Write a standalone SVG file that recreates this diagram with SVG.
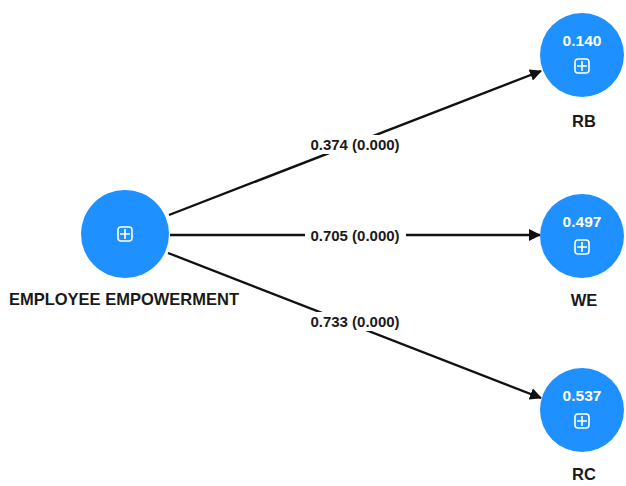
<svg xmlns="http://www.w3.org/2000/svg" width="626" height="486" viewBox="0 0 626 486">
<style>
.node{fill:#1E90FF}
.lbl{font-family:"Liberation Sans",Arial,sans-serif;font-weight:bold;font-size:16.5px;fill:#1a1a1a;text-anchor:middle}
.val{font-family:"Liberation Sans",Arial,sans-serif;font-weight:bold;font-size:15.5px;fill:#ffffff;text-anchor:middle}
.edge{stroke:#111;stroke-width:2.4;fill:none;marker-end:url(#arr)}
.elbl{font-family:"Liberation Sans",Arial,sans-serif;font-weight:bold;font-size:15px;fill:#1a1a1a;text-anchor:middle}
.icon{fill:none;stroke:#ffffff;stroke-width:1.6}
</style>
<defs>
<marker id="arr" markerWidth="12" markerHeight="12" refX="11" refY="6" orient="auto" markerUnits="userSpaceOnUse" viewBox="0 0 12 12">
<path d="M0,0 L12,6 L0,12 z" fill="#111"/>
</marker>
<g id="plus">
<rect x="-7" y="-7" width="14" height="14" rx="3" class="icon"/>
<path d="M0,-5 V5 M-5,0 H5" class="icon"/>
</g>
</defs>
<rect width="626" height="486" fill="#ffffff"/>
<g id="connectors">
<line class="edge" x1="169" y1="215" x2="541" y2="71"/>
<line class="edge" x1="170" y1="235" x2="540" y2="235"/>
<line class="edge" x1="168" y1="253" x2="541" y2="398"/>
<rect x="305" y="135" width="101" height="19" fill="#ffffff"/>
<rect x="305" y="226" width="101" height="19" fill="#ffffff"/>
<rect x="305" y="312" width="101" height="19" fill="#ffffff"/>
<text class="elbl" x="355" y="150">0.374 (0.000)</text>
<text class="elbl" x="355" y="241">0.705 (0.000)</text>
<text class="elbl" x="355" y="327">0.733 (0.000)</text>
</g>
<g id="employee-empowerment">
<circle class="node" cx="125" cy="234" r="44"/>
<use href="#plus" x="125" y="234"/>
<text class="lbl" x="124" y="305">EMPLOYEE EMPOWERMENT</text>
</g>
<g id="rb">
<circle class="node" cx="582" cy="55" r="42"/>
<text class="val" x="582" y="46">0.140</text>
<use href="#plus" x="582" y="66"/>
<text class="lbl" x="584" y="127">RB</text>
</g>
<g id="we">
<circle class="node" cx="582" cy="236" r="42"/>
<text class="val" x="582" y="227">0.497</text>
<use href="#plus" x="582" y="247"/>
<text class="lbl" x="584" y="306">WE</text>
</g>
<g id="rc">
<circle class="node" cx="582" cy="410" r="42"/>
<text class="val" x="582" y="401">0.537</text>
<use href="#plus" x="582" y="421"/>
<text class="lbl" x="584" y="480">RC</text>
</g>
</svg>
